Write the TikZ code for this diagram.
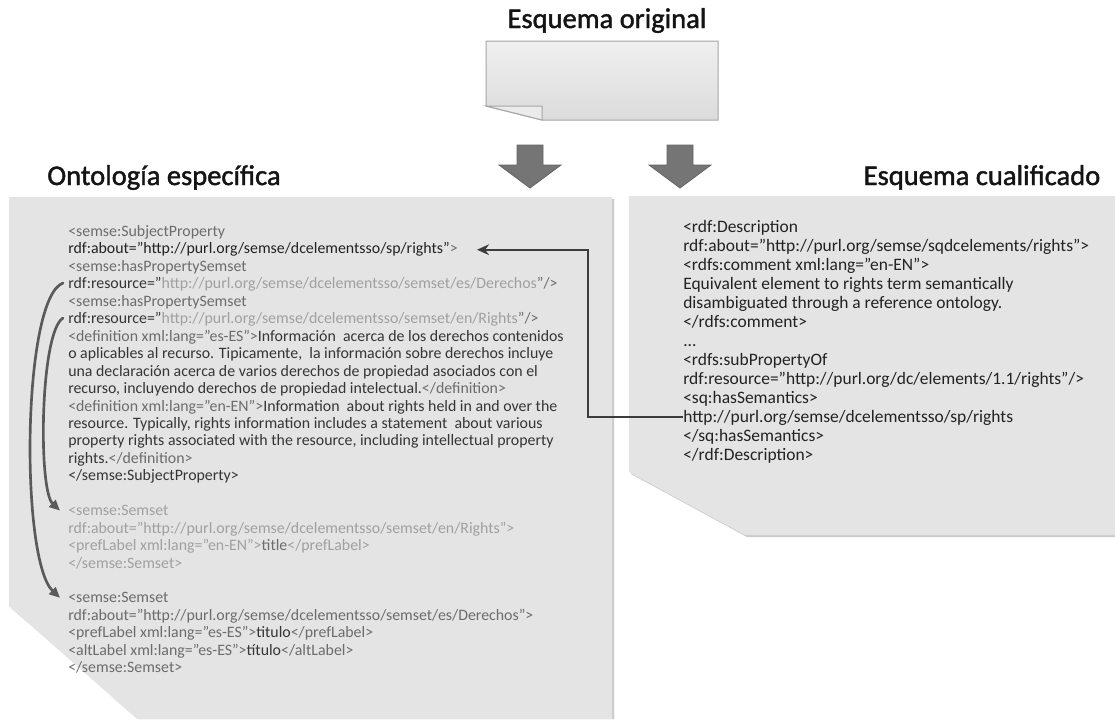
\documentclass[tikz,border=0pt]{standalone}
\usepackage{fontspec}
\setmainfont{Carlito}
\newfontfamily\headfont[FakeBold=1.5]{Carlito}
\usetikzlibrary{arrows.meta,calc}
\definecolor{txdark}{HTML}{353535}
\definecolor{txdeep}{HTML}{222222}
\definecolor{txmid}{HTML}{6C6C6C}
\definecolor{txlight}{HTML}{A0A0A0}
\definecolor{panelfill}{HTML}{E4E4E4}
\definecolor{panelshadow}{HTML}{CBCBCB}
\definecolor{arrowgray}{HTML}{757575}
\definecolor{arrowedge}{HTML}{646464}
\definecolor{connc}{HTML}{3C3C3C}
\definecolor{curvec}{HTML}{5A5A5A}
\newcommand\txd[1]{\textcolor{txdark}{#1}}
\newcommand\txe[1]{\textcolor{txdeep}{#1}}
\newcommand\txm[1]{\textcolor{txmid}{#1}}
\newcommand\txl[1]{\textcolor{txlight}{#1}}
\tikzset{
  titletext/.style={inner sep=0pt, font=\headfont\fontsize{21.4pt}{24pt}\selectfont, text=black!92},
  leftline/.style={inner sep=0pt, anchor=base west, font=\fontsize{11.9pt}{13pt}\selectfont},
  rightline/.style={inner sep=0pt, anchor=base west, font=\fontsize{13.1pt}{14pt}\selectfont, text=txdeep},
  panel/.style={fill=panelfill},
  pshadow/.style={fill=panelshadow},
  blockarrow/.style={fill=arrowgray, draw=arrowedge, line width=0.6pt},
  conn/.style={draw=connc, line width=1.5pt, -{Stealth[length=9pt,width=8pt]}},
  curvearrow/.style={draw=curvec, line width=2pt, line cap=round, -{Triangle[length=8pt,width=7pt]}}
}
\newcommand\blkarrow[1]{%
  \filldraw[blockarrow] ({#1-13},145) -- ({#1+13},145) -- ({#1+13},165) -- ({#1+31},165)
    -- (#1,188) -- ({#1-31},165) -- ({#1-13},165) -- cycle;}
\begin{document}
\begin{tikzpicture}[x=0.75pt,y=-0.75pt]
\useasboundingbox (0,0) rectangle (1115,719);
% ---------- top document shape ----------
\node[titletext, anchor=base] (t0) at (607,28) {Esquema original};
\shade[top color=gray!12, bottom color=gray!28, draw=gray!70, line width=0.75pt]
  (486,41) -- (718,41) -- (718,120) -- (542,120) -- (486,106) -- cycle;
\filldraw[fill=gray!16, draw=gray!70, line width=0.75pt] (486,106) -- (542,106) -- (542,120) -- cycle;
% ---------- block arrows ----------
\blkarrow{530}
\blkarrow{680}
% ---------- titles ----------
\node[titletext, anchor=base] (t1) at (164,185) {Ontología específica};
\node[titletext, anchor=base] (t2) at (982,185) {Esquema cualificado};
% ---------- panels ----------
\fill[pshadow] (11,199) -- (614,199) -- (614,719) -- (139,719) -- (11,608) -- cycle;
\fill[panel] (9,197) -- (612,197) -- (612,719) -- (137,719) -- (9,606) -- cycle;
\fill[pshadow] (631,198) -- (1115,198) -- (1115,537) -- (747,537) -- (631,474) -- cycle;
\fill[panel] (629,196) -- (1115,196) -- (1115,535) -- (745,535) -- (629,472) -- cycle;
% ---------- left panel text ----------
\node[leftline] (L1)  at (68,236.5) {\txm{<semse:SubjectProperty}};
\node[leftline] (L2)  at (68,253.95) {\txe{rdf:about="http://purl.org/semse/dcelementsso/sp/rights"}\txm{>}};
\node[leftline] (L3)  at (68,271.4) {\txm{<semse:hasPropertySemset}};
\node[leftline] (L4)  at (68,288.85) {\txd{rdf:resource="}\txl{http://purl.org/semse/dcelementsso/semset/es/Derechos}\txm{"/>}};
\node[leftline] (L5)  at (68,306.3) {\txm{<semse:hasPropertySemset}};
\node[leftline] (L6)  at (68,323.75) {\txd{rdf:resource="}\txl{http://purl.org/semse/dcelementsso/semset/en/Rights}\txm{"/>}};
\node[leftline] (L7)  at (68,341.2) {\txm{<definition xml:lang="es-ES">}\txd{Información\ \ acerca de los derechos contenidos}};
\node[leftline] (L8)  at (68,358.65) {\txd{o aplicables al recurso. Tipicamente,\ \ la información sobre derechos incluye}};
\node[leftline] (L9)  at (68,376.1) {\txd{una declaración acerca de varios derechos de propiedad asociados con el}};
\node[leftline] (L10) at (68,393.55) {\txd{recurso, incluyendo derechos de propiedad intelectual.}\txm{</definition>}};
\node[leftline] (L11) at (68,411) {\txm{<definition xml:lang="en-EN">}\txd{Information\ \ about rights held in and over the}};
\node[leftline] (L12) at (68,428.45) {\txd{resource. Typically, rights information includes a statement\ \ about various}};
\node[leftline] (L13) at (68,445.9) {\txd{property rights associated with the resource, including intellectual property}};
\node[leftline] (L14) at (68,463.35) {\txd{rights.}\txm{</definition>}};
\node[leftline] (L15) at (68,480.8) {\txd{</semse:SubjectProperty>}};
\node[leftline] (L17) at (68,515.7) {\txl{<semse:Semset}};
\node[leftline] (L18) at (68,533.15) {\txl{rdf:about="http://purl.org/semse/dcelementsso/semset/en/Rights">}};
\node[leftline] (L19) at (68,550.6) {\txl{<prefLabel xml:lang="en-EN">}\txm{title}\txl{</prefLabel>}};
\node[leftline] (L20) at (68,568.05) {\txl{</semse:Semset>}};
\node[leftline] (L22) at (68,602.95) {\txm{<semse:Semset}};
\node[leftline] (L23) at (68,620.4) {\txm{rdf:about="http://purl.org/semse/dcelementsso/semset/es/Derechos">}};
\node[leftline] (L24) at (68,637.85) {\txm{<prefLabel xml:lang="es-ES">}\txd{titulo}\txm{</prefLabel>}};
\node[leftline] (L25) at (68,655.3) {\txm{<altLabel xml:lang="es-ES">}\txd{título}\txm{</altLabel>}};
\node[leftline] (L26) at (68,672.75) {\txm{</semse:Semset>}};
% ---------- right panel text ----------
\node[rightline] (R1)  at (683,232) {<rdf:Description};
\node[rightline] (R2)  at (683,251) {rdf:about="http://purl.org/semse/sqdcelements/rights">};
\node[rightline] (R3)  at (683,270) {<rdfs:comment xml:lang="en-EN">};
\node[rightline] (R4)  at (683,289) {Equivalent element to rights term semantically};
\node[rightline] (R5)  at (683,308) {disambiguated through a reference ontology.};
\node[rightline] (R6)  at (683,327) {</rdfs:comment>};
\node[rightline] (R7)  at (683,346) {...};
\node[rightline] (R8)  at (683,365) {<rdfs:subPropertyOf};
\node[rightline] (R9)  at (683,384) {rdf:resource="http://purl.org/dc/elements/1.1/rights"/>};
\node[rightline] (R10) at (683,403) {<sq:hasSemantics>};
\node[rightline] (R11) at (683,422) {http://purl.org/semse/dcelementsso/sp/rights};
\node[rightline] (R12) at (683,441) {</sq:hasSemantics>};
\node[rightline] (R13) at (683,460) {</rdf:Description>};
% ---------- connectors ----------
\coordinate (vx) at (588,0);
\coordinate (tipx) at (477,0);
\draw[conn] (R11.west) -- (R11.west -| vx) -- (vx |- L2.east) -- (L2.east -| tipx);
\coordinate (c1s) at (63,283);
\coordinate (c2s) at (63,318);
\draw[curvearrow] (c1s) .. controls (22,298) and (20,560) .. ([xshift=-6]L22.west);
\draw[curvearrow] (c2s) .. controls (40,332) and (38,490) .. ([xshift=-6]L17.west);
\end{tikzpicture}
\end{document}
